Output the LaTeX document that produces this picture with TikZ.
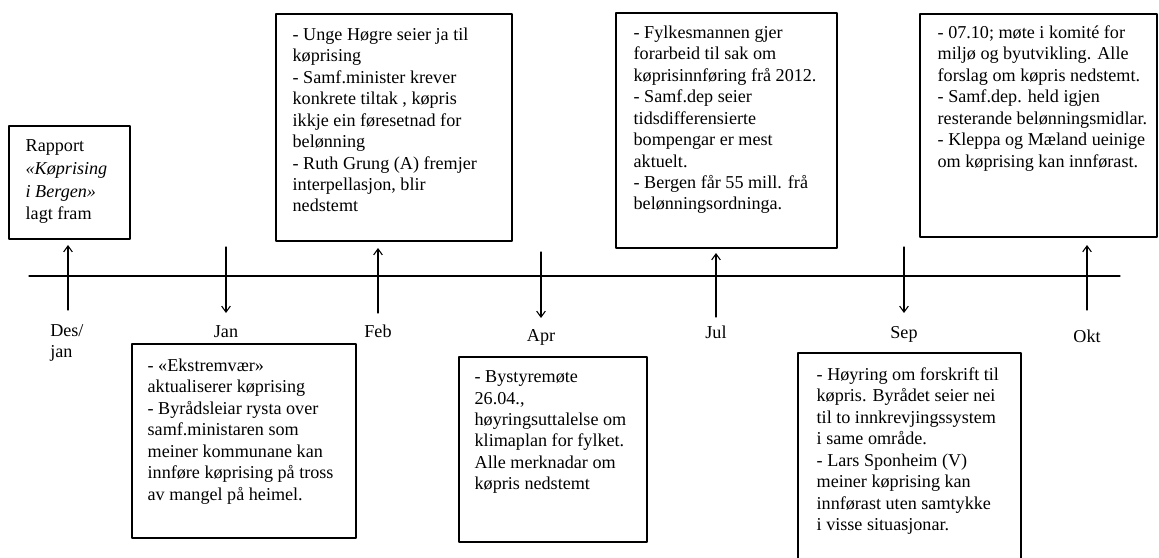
\documentclass[tikz,border=0pt]{standalone}
\usepackage{fontspec}
\setmainfont{Liberation Serif}
\usetikzlibrary{arrows.meta,fit}
\tikzset{
	evbox/.style={draw, line width=0.9pt, inner sep=0pt},
	evtext/.style={anchor=north west, align=left, inner sep=0pt, font=\fontsize{13.6}{16.1}\selectfont},
	mlabel/.style={anchor=base, inner sep=0pt, font=\fontsize{13.6}{16}\selectfont},
}
\begin{document}
\begin{tikzpicture}[x=0.75pt,y=-0.75pt,>={Straight Barb[length=4.5pt,width=6.5pt]},line join=round,line cap=round]
	\useasboundingbox (0,0) rectangle (1159,557);
	% time line
	\coordinate (tl0) at (29,276);
	\coordinate (tl1) at (1120,276);
	\draw[line width=0.9pt] (tl0)--(tl1);
	\foreach \n/\x in {des/68, jan/226, feb/378, apr/541, jul/716, sep/904, okt/1087}
		\coordinate (m\n) at (\x,276);
	% boxes above the line
	\node[evbox, fit={(9,126) (130,239)}] (rapport) {};
	\node[evtext] (rapporttxt) at ([shift={(17,14)}]rapport.north west) {Rapport\\[1pt]{\itshape «Køprising}\\[1pt]{\itshape i Bergen»}\\[1pt]lagt fram};
	\node[evbox, fit={(276,14) (512,241)}] (febbox) {};
	\node[evtext] (febtxt) at ([shift={(17,14)}]febbox.north west) {- Unge Høgre seier ja til\\køprising\\- Samf.minister krever\\konkrete tiltak , køpris\\ikkje ein føresetnad for\\belønning\\- Ruth Grung (A) fremjer\\interpellasjon, blir\\nedstemt};
	\node[evbox, fit={(616,13) (837,248)}] (julbox) {};
	\node[evtext] (jultxt) at ([shift={(18,13)}]julbox.north west) {- Fylkesmannen gjer\\forarbeid til sak om\\køprisinnføring frå 2012.\\- Samf.dep seier\\tidsdifferensierte\\bompengar er mest\\aktuelt.\\- Bergen får 55 mill. frå\\belønningsordninga.};
	\node[evbox, fit={(920,14) (1157,237)}] (oktbox) {};
	\node[evtext] (okttxt) at ([shift={(18,12)}]oktbox.north west) {- 07.10; møte i komité for\\miljø og byutvikling. Alle\\forslag om køpris nedstemt.\\- Samf.dep. held igjen\\resterande belønningsmidlar.\\- Kleppa og Mæland ueinige\\om køprising kan innførast.};
	% boxes below the line
	\node[evbox, fit={(132,344) (356,538)}] (janbox) {};
	\node[evtext] (jantxt) at ([shift={(16,15)}]janbox.north west) {- «Ekstremvær»\\aktualiserer køprising\\- Byrådsleiar rysta over\\samf.ministaren som\\meiner kommunane kan\\innføre køprising på tross\\av mangel på heimel.};
	\node[evbox, fit={(459,357) (647,542)}] (aprbox) {};
	\node[evtext] (aprtxt) at ([shift={(16,14)}]aprbox.north west) {- Bystyremøte\\26.04.,\\høyringsuttalelse om\\klimaplan for fylket.\\Alle merknadar om\\køpris nedstemt};
	\node[evbox, fit={(798,353) (1021,560)}] (sepbox) {};
	\node[evtext] (septxt) at ([shift={(19,15)}]sepbox.north west) {- Høyring om forskrift til\\køpris. Byrådet seier nei\\til to innkrevjingssystem\\i same område.\\- Lars Sponheim (V)\\meiner køprising kan\\innførast uten samtykke\\i visse situasjonar.};
	% month labels
	\node[evtext] (ldes) at (50,324) {Des/\\jan};
	\node[mlabel] (ljan) at (226,337) {Jan};
	\node[mlabel] (lfeb) at (378,337) {Feb};
	\node[mlabel] (lapr) at (541,341) {Apr};
	\node[mlabel] (ljul) at (716,338) {Jul};
	\node[mlabel] (lsep) at (904,338) {Sep};
	\node[mlabel] (lokt) at (1087,342) {Okt};
	% arrows
	\draw[->,line width=0.8pt] (mdes) ++(0,34) -- ++(0,-65);
	\draw[->,line width=0.8pt] (mjan) ++(0,-29) -- ++(0,66);
	\draw[->,line width=0.8pt] (mfeb) ++(0,37) -- ++(0,-65);
	\draw[->,line width=0.8pt] (mapr) ++(0,-24) -- ++(0,66);
	\draw[->,line width=0.8pt] (mjul) ++(0,41) -- ++(0,-64);
	\draw[->,line width=0.8pt] (msep) ++(0,-29) -- ++(0,66);
	\draw[->,line width=0.8pt] (mokt) ++(0,34) -- ++(0,-65);
\end{tikzpicture}
\end{document}
